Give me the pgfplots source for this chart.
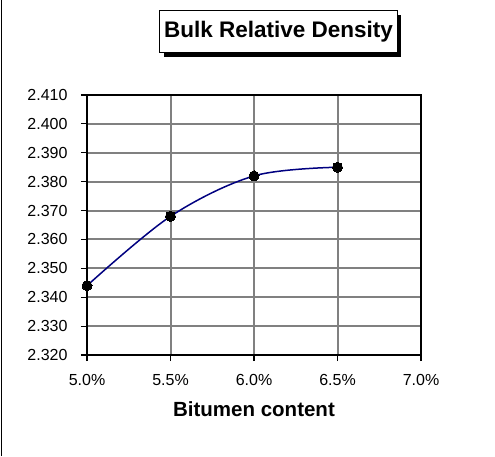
\documentclass[border=0pt]{standalone}
\usepackage{fontspec}
\setmainfont{Liberation Sans}
\usepackage{pgfplots}
\pgfplotsset{compat=1.18}
\definecolor{navyline}{RGB}{0,0,128}
\definecolor{gridgray}{RGB}{128,128,128}
\begin{document}
\begin{tikzpicture}
\useasboundingbox (0pt,0pt) rectangle (495pt,456pt);
\fill[white] (0pt,0pt) rectangle (495pt,456pt);
\draw[line width=1.5pt] (1.5pt,0pt) -- (1.5pt,456pt);
% title box with shadow
\fill[black] (164pt,399pt) rectangle (401pt,441pt);
\draw[line width=1pt, fill=white] (159.5pt,403.5pt) rectangle (397pt,445pt);
\node[font=\fontsize{22.5}{26}\selectfont\bfseries] at (278.5pt,424pt) {Bulk Relative Density};
\begin{axis}[
  at={(87pt,101pt)}, anchor=south west,
  scale only axis, width=334pt, height=260pt,
  xmin=5, xmax=7, ymin=2.32, ymax=2.41,
  xtick={5,5.5,6,6.5,7},
  xticklabels={5.0\%,5.5\%,6.0\%,6.5\%,7.0\%},
  ytick={2.32,2.33,2.34,2.35,2.36,2.37,2.38,2.39,2.40,2.41},
  yticklabels={2.320,2.330,2.340,2.350,2.360,2.370,2.380,2.390,2.400,2.410},
  grid=major,
  grid style={gridgray, line width=2pt},
  axis line style={black, line width=2pt},
  major tick style={black, line width=1.2pt},
  major tick length=6pt,
  tick align=outside,
  xtick pos=lower, ytick pos=left,
  tick label style={font=\fontsize{16}{19}\selectfont},
  /pgf/number format/assume math mode=true,
  yticklabel style={anchor=east, xshift=-10pt},
  xticklabel style={anchor=north, yshift=-9.5pt},
  xlabel={Bitumen content},
  xlabel style={at={(axis description cs:0.5,0)}, anchor=north, yshift=-43pt, font=\fontsize{20.5}{24}\selectfont\bfseries},
  clip=false,
]
\addplot[navyline, line width=1.5pt, smooth, tension=0.55, mark=*, mark size=5pt, mark options={fill=black, draw=black, line width=0pt}]
  coordinates {(5.0,2.344) (5.5,2.368) (6.0,2.382) (6.5,2.385)};
\end{axis}
\end{tikzpicture}
\end{document}
